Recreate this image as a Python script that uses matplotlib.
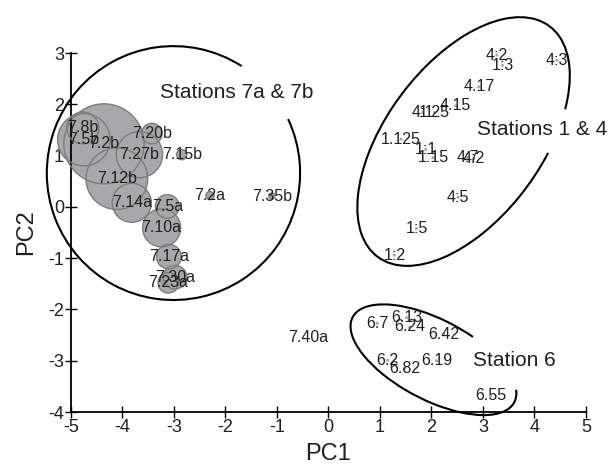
import matplotlib
matplotlib.use('Agg')
from matplotlib import pyplot as plt
from matplotlib.patches import Circle, Arc

plt.rcParams['font.family'] = ['Liberation Sans', 'DejaVu Sans']
plt.rcParams['axes.unicode_minus'] = False

# Stations 7a & 7b (bubble radius in PC units)
st7_names = ['7.8b', '7.5b', '7.2b', '7.20b', '7.27b', '7.15b', '7.12b', '7.14a',
             '7.5a', '7.10a', '7.2a', '7.35b', '7.17a', '7.30a', '7.23a', '7.40a']
st7_x = [-4.77, -4.75, -4.36, -3.43, -3.67, -2.85, -4.11, -3.82,
         -3.13, -3.24, -2.30, -1.10, -3.10, -2.98, -3.11, -0.40]
st7_y = [1.54, 1.31, 1.23, 1.43, 1.02, 1.02, 0.55, 0.08,
         0.01, -0.41, 0.22, 0.21, -0.97, -1.37, -1.48, -2.55]
st7_r = [0.31, 0.51, 0.78, 0.20, 0.45, 0.10, 0.60, 0.38,
         0.23, 0.37, 0.08, 0.06, 0.24, 0.23, 0.20, 0.0]

# Stations 1 & 4
st14_names = ['4:2', '1:3', '4:3', '4.17', '4.15', '4:1', '1:25', '1.125',
              '1:1', '1:15', '4:7', '4:2', '4:5', '1:5', '1:2']
st14_x = [3.27, 3.38, 4.44, 2.92, 2.47, 1.83, 2.06, 1.41,
          1.89, 2.03, 2.70, 2.82, 2.52, 1.71, 1.28]
st14_y = [2.96, 2.76, 2.86, 2.34, 1.97, 1.84, 1.84, 1.32,
          1.12, 0.96, 0.96, 0.94, 0.19, -0.42, -0.94]

# Station 6
st6_names = ['6.7', '6.13', '6.24', '6.42', '6.2', '6.82', '6.19', '6.55']
st6_x = [0.95, 1.52, 1.58, 2.24, 1.15, 1.48, 2.10, 3.15]
st6_y = [-2.27, -2.16, -2.34, -2.48, -2.99, -3.15, -3.00, -3.68]

names = st7_names + st14_names + st6_names
xs = st7_x + st14_x + st6_x
ys = st7_y + st14_y + st6_y
rs = st7_r + [0.03] * len(st14_names) + [0.03] * len(st6_names)

fig = plt.figure(figsize=(6.1, 4.72), dpi=100)
ax = fig.add_axes([0.1164, 0.127, 0.844, 0.7606])

fill = '#a7a8aa'
edge = '#7d7d7d'
txt = '#231f20'

# fills first, then outlines on top so overlaps show
for x, y, r in zip(xs, ys, rs):
    if r > 0:
        ax.add_patch(Circle((x, y), r, facecolor=fill, edgecolor='none', zorder=2, clip_on=False))
for x, y, r in zip(xs, ys, rs):
    if r > 0.05:
        ax.add_patch(Circle((x, y), r, facecolor='none', edgecolor=edge, lw=1.0, zorder=3, clip_on=False))

for n, x, y in zip(names, xs, ys):
    ax.text(x, y, n, ha='center', va='center', fontsize=11.5, color=txt, zorder=4)

# group outlines
ax.add_patch(Arc((-3.01, 0.66), 4.92, 4.95, angle=0, theta1=57.6, theta2=385.3,
                 color='black', lw=1.5, clip_on=False))
ax.add_patch(Arc((2.625, 1.275), 5.60, 3.03, angle=53.5, theta1=-35.8, theta2=298.8,
                 color='black', lw=1.5, clip_on=False))
ax.add_patch(Arc((2.04, -2.98), 3.55, 1.56, angle=-27.9, theta1=58, theta2=367.9,
                 color='black', lw=1.5, clip_on=False))

ax.text(-1.78, 2.23, 'Stations 7a & 7b', ha='center', va='center', fontsize=15, color=txt)
ax.text(4.16, 1.50, 'Stations 1 & 4', ha='center', va='center', fontsize=15, color=txt)
ax.text(3.61, -3.00, 'Station 6', ha='center', va='center', fontsize=15, color=txt)

ax.set_xlim(-5, 5)
ax.set_ylim(-4, 3)
ax.set_xticks(range(-5, 6))
ax.set_yticks(range(-4, 4))
for s in ['top', 'right']:
    ax.spines[s].set_visible(False)
for s in ['left', 'bottom']:
    ax.spines[s].set_linewidth(1.3)
ax.tick_params(direction='inout', length=8, width=1, labelsize=13, colors='black',
               labelcolor=txt, pad=1)
ax.set_xlabel('PC1', fontsize=17, color=txt, labelpad=5)
ax.set_ylabel('PC2', fontsize=17, color=txt, labelpad=8)

plt.savefig('out.png', dpi=100)
